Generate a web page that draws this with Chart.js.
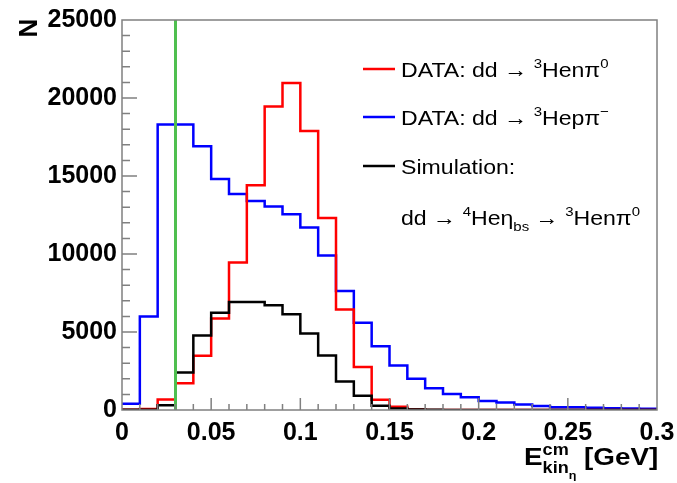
<!DOCTYPE html>
<html>
<head>
<meta charset="utf-8">
<script src="https://cdn.jsdelivr.net/npm/chart.js@4.4.1/dist/chart.umd.min.js"></script>
<style>
  html, body { margin: 0; padding: 0; background: #fff; }
</style>
</head>
<body>
<canvas id="histChart" width="677" height="483"></canvas>
<script>
// binning of the kinetic energy axis (GeV)
const binLow = 0;
const binWidth = 0.01;

// counts per bin
const dataNeutral = [20, 60, 680, 1720, 3480, 5870, 9460, 14400, 19460, 20960,
  17890, 12300, 6450, 2750, 650, 215, 30, 0, 0, 0,
  0, 0, 0, 0, 0, 0, 0, 0, 0, 0];
const dataCharged = [400, 6000, 18300, 18300, 16900, 14800, 13850, 13400, 13050, 12550,
  11700, 9900, 7630, 5590, 4080, 2860, 2000, 1400, 1030, 820,
  580, 480, 360, 260, 180, 170, 150, 120, 100, 80];
const simulation = [10, 20, 300, 2410, 4780, 6240, 6920, 6920, 6710, 6130,
  4900, 3500, 1830, 920, 270, 100, 30, 10, 0, 0,
  0, 0, 0, 0, 0, 0, 0, 0, 0, 0];
const cutValue = 0.03;

const xTicks = [0, 0.05, 0.1, 0.15, 0.2, 0.25, 0.3];
const xTickLabels = ["0", "0.05", "0.1", "0.15", "0.2", "0.25", "0.3"];
const yTicks = [0, 5000, 10000, 15000, 20000, 25000];
const yTickLabels = ["0", "5000", "10000", "15000", "20000", "25000"];

// legend text pieces: [text, kind]
const legendRed = [["DATA: dd → "], ["3", "sup"], ["Henπ"], ["0", "sup"]];
const legendBlue = [["DATA: dd → "], ["3", "sup"], ["Hepπ"], ["−", "sup"]];
const legendBlack = [["Simulation:"]];
const legendBlack2 = [["dd → "], ["4", "sup"], ["Heη"], ["bs", "sub"], [" → "], ["3", "sup"], ["Henπ"], ["0", "sup"]];
const xTitle = [["E"], ["cm", "sup", "hold"], ["kin", "sub"], ["η", "subsub"], [" [GeV]"]];
const yTitle = "N";

const RED = "#ff0000";
const BLUE = "#0000ff";
const BLACK = "#000000";
const GREEN = "#4fbf4f";
const FONT = "'Liberation Sans', Arial, sans-serif";

function toSteps(values) {
  const pts = values.map((v, i) => ({ x: binLow + i * binWidth, y: v }));
  pts.push({ x: binLow + values.length * binWidth, y: values[values.length - 1] });
  return pts;
}

function drawRich(ctx, parts, x, y, size, bold, stretch) {
  ctx.save();
  ctx.translate(x, y);
  ctx.scale(stretch, 1);
  ctx.textBaseline = "alphabetic";
  ctx.textAlign = "left";
  let cx = 0;
  parts.forEach(function (p) {
    let fs = size, dy = 0;
    if (p[1] === "sup") { fs = size * 0.65; dy = -size * 0.42; }
    if (p[1] === "sub") { fs = size * 0.65; dy = size * 0.32; }
    if (p[1] === "subsub") { fs = size * 0.45; dy = size * 0.6; }
    ctx.font = (bold ? "bold " : "") + fs + "px " + FONT;
    ctx.fillText(p[0], cx, dy);
    if (p[2] !== "hold") cx += ctx.measureText(p[0]).width;
  });
  ctx.restore();
}

const framePlugin = {
  id: "rootFrame",
  afterDraw(chart) {
    const ctx = chart.ctx;
    const a = chart.chartArea;
    const xs = chart.scales.x;
    const ys = chart.scales.y;
    ctx.save();
    ctx.strokeStyle = "#808080";
    ctx.lineWidth = 1.5;
    ctx.strokeRect(a.left, a.top, a.right - a.left, a.bottom - a.top);

    // inward ticks
    ctx.beginPath();
    for (let k = 1; k < 30; k++) {
      const px = xs.getPixelForValue(k * 0.01);
      const len = k % 5 === 0 ? 12 : 6;
      ctx.moveTo(px, a.bottom);
      ctx.lineTo(px, a.bottom - len);
    }
    for (let k = 1; k < 25; k++) {
      const py = ys.getPixelForValue(k * 1000);
      const len = k % 5 === 0 ? 15 : 8;
      ctx.moveTo(a.left, py);
      ctx.lineTo(a.left + len, py);
    }
    ctx.stroke();

    // legend
    ctx.fillStyle = "#000";
    const rows = [[RED, legendRed, 69], [BLUE, legendBlue, 117], [BLACK, legendBlack, 166]];
    rows.forEach(function (r) {
      ctx.strokeStyle = r[0];
      ctx.lineWidth = 2.5;
      ctx.beginPath();
      ctx.moveTo(363, r[2]);
      ctx.lineTo(395, r[2]);
      ctx.stroke();
      drawRich(ctx, r[1], 401, r[2] + 7.5, 21, false, 1.1);
    });
    drawRich(ctx, legendBlack2, 401, 224.5, 21, false, 1.1);

    // axis titles
    drawRich(ctx, xTitle, 524, 465, 24, true, 1.16);
    ctx.save();
    ctx.translate(37, 28);
    ctx.rotate(-Math.PI / 2);
    ctx.font = "bold 26px " + FONT;
    ctx.textAlign = "center";
    ctx.textBaseline = "alphabetic";
    ctx.fillText(yTitle, 0, 0);
    ctx.restore();
    ctx.restore();
  }
};

const ctx = document.getElementById("histChart").getContext("2d");

new Chart(ctx, {
  type: "line",
  data: {
    datasets: [
      { data: [{ x: cutValue, y: 0 }, { x: cutValue, y: 25000 }], borderColor: GREEN, borderWidth: 3, order: 0 },
      { data: toSteps(simulation), borderColor: BLACK, borderWidth: 2.5, stepped: true, order: 1 },
      { data: toSteps(dataNeutral), borderColor: RED, borderWidth: 2.5, stepped: true, order: 2 },
      { data: toSteps(dataCharged), borderColor: BLUE, borderWidth: 2.5, stepped: true, order: 3 },
    ],
  },
  options: {
    responsive: false,
    animation: false,
    layout: { padding: { top: 20, right: 20, left: 0, bottom: 0 } },
    elements: { point: { radius: 0 }, line: { tension: 0, fill: false } },
    plugins: { legend: { display: false }, tooltip: { enabled: false } },
    scales: {
      x: {
        type: "linear",
        min: 0,
        max: 0.3,
        grid: { display: false, drawTicks: false },
        border: { display: false },
        afterBuildTicks: function (scale) {
          scale.ticks = xTicks.map(v => ({ value: v }));
        },
        afterFit: function (scale) {
          scale.height = 73;
          scale.paddingLeft = 0;
          scale.paddingRight = 0;
        },
        ticks: {
          autoSkip: false,
          maxRotation: 0,
          padding: 8,
          color: "#000",
          font: { family: FONT, size: 25, weight: "bold" },
          callback: function (value, index) {
            return xTickLabels[index];
          },
        },
      },
      y: {
        min: 0,
        max: 25000,
        grid: { display: false, drawTicks: false },
        border: { display: false },
        afterBuildTicks: function (scale) {
          scale.ticks = yTicks.map(v => ({ value: v }));
        },
        afterFit: function (scale) {
          scale.width = 122;
          scale.paddingTop = 0;
          scale.paddingBottom = 0;
        },
        ticks: {
          padding: 5,
          color: "#000",
          font: { family: FONT, size: 25, weight: "bold" },
          callback: function (value, index) {
            return yTickLabels[index];
          },
        },
      },
    },
  },
  plugins: [framePlugin],
});
</script>
</body>
</html>
